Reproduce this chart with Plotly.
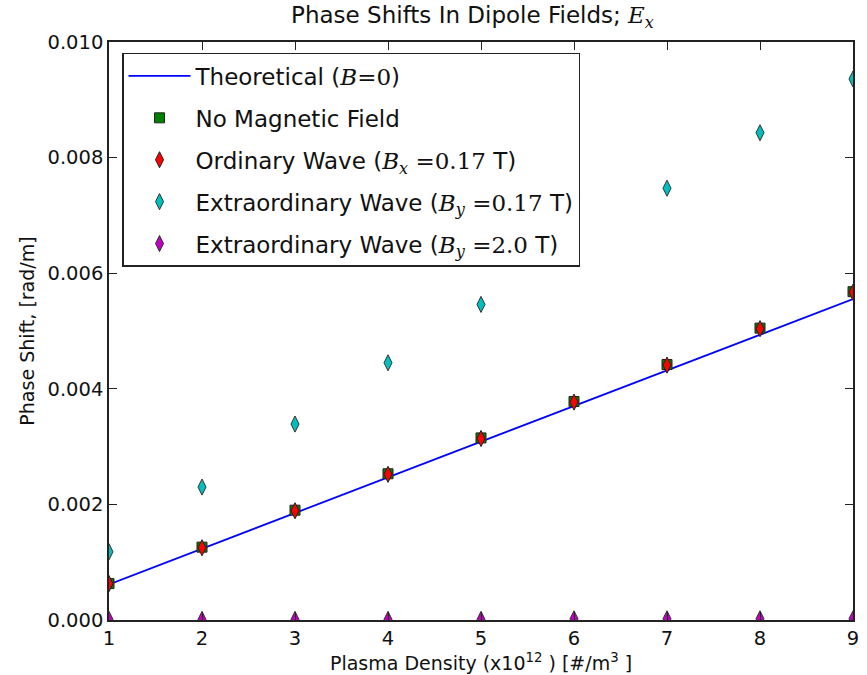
import plotly.graph_objects as go

density = [1, 2, 3, 4, 5, 6, 7, 8, 9]
theoretical = [0.000617, 0.001234, 0.001851, 0.002468, 0.003085, 0.003702, 0.004319, 0.004936, 0.005553]
no_field = [0.00063, 0.00126, 0.00190, 0.00253, 0.00315, 0.00378, 0.00442, 0.00505, 0.00568]
ordinary = [0.00063, 0.00125, 0.00189, 0.00252, 0.00314, 0.00377, 0.00441, 0.00504, 0.00567]
extra_017 = [0.00118, 0.00230, 0.00339, 0.00445, 0.00546, 0.00647, 0.00747, 0.00843, 0.00936]
extra_20 = [0.00001, 0.00001, 0.00001, 0.00001, 0.00001, 0.00002, 0.00002, 0.00002, 0.00002]

M = "font-family:'DejaVu Serif'"

fig = go.Figure()
fig.add_trace(go.Scatter(x=density, y=theoretical, mode="lines",
                         line=dict(color="#0000ff", width=1.8),
                         name=f"Theoretical (<span style=\"{M}\"><i>B</i>=0</span>)",
                         legendgroup="a"))
fig.add_trace(go.Scatter(x=density, y=no_field, mode="markers",
                         marker=dict(symbol="square", size=10, color="#008000",
                                     line=dict(color="#222", width=1)),
                         name="No Magnetic Field", legendgroup="b"))
fig.add_trace(go.Scatter(x=density, y=ordinary, mode="markers",
                         marker=dict(symbol="diamond-tall", size=11.5, color="#ff0000",
                                     line=dict(color="#222", width=1)),
                         name=f"Ordinary Wave (<span style=\"{M}\"><i>B</i><sub><i>x</i></sub> =0.17</span> T)",
                         legendgroup="c"))
fig.add_trace(go.Scatter(x=density, y=extra_017, mode="markers",
                         marker=dict(symbol="diamond-tall", size=11.5, color="#00bfbf",
                                     line=dict(color="#333", width=1)),
                         name=f"Extraordinary Wave (<span style=\"{M}\"><i>B</i><sub><i>y</i></sub> =0.17</span> T)",
                         legendgroup="d"))
fig.add_trace(go.Scatter(x=density, y=extra_20, mode="markers",
                         marker=dict(symbol="diamond-tall", size=11.5, color="#bf00bf",
                                     line=dict(color="#333", width=1)),
                         name=f"Extraordinary Wave (<span style=\"{M}\"><i>B</i><sub><i>y</i></sub> =2.0</span> T)",
                         legendgroup="e"))

axis_common = dict(showline=True, linecolor="#222", linewidth=1.5, mirror="ticks",
                   ticks="inside", ticklen=8, tickcolor="#222", showgrid=False,
                   zeroline=False, tickfont=dict(size=19.5, color="#111"))

fig.update_layout(
    width=867, height=675,
    margin=dict(l=109, r=14, t=42, b=55, autoexpand=False),
    paper_bgcolor="white", plot_bgcolor="white",
    font=dict(family="DejaVu Sans", color="#111"),
    title=dict(text=f"Phase Shifts In Dipole Fields; <span style=\"{M}\"><i>E</i><sub><i>x</i></sub></span>",
               x=0.545, xanchor="center", y=0.978, yanchor="middle",
               font=dict(size=23, color="#111")),
    xaxis=dict(range=[1, 9], dtick=1, **axis_common,
               title=dict(text="Plasma Density (x10<sup>12</sup> ) [#/m<sup>3</sup> ]",
                          font=dict(size=19), standoff=4)),
    yaxis=dict(range=[0, 0.010], dtick=0.002, tickformat=".3f", **axis_common,
               title=dict(text="Phase Shift, [rad/m]", font=dict(size=19), standoff=8)),
    legend=dict(x=0.0175, y=0.981, xanchor="left", yanchor="top",
                bgcolor="white", bordercolor="#222", borderwidth=1.5,
                font=dict(size=23, color="#111"), tracegroupgap=9,
                itemwidth=62),
    showlegend=True,
)

fig.write_html("out.html", config={"displayModeBar": False},
               post_script="document.body.style.margin='0px';")
